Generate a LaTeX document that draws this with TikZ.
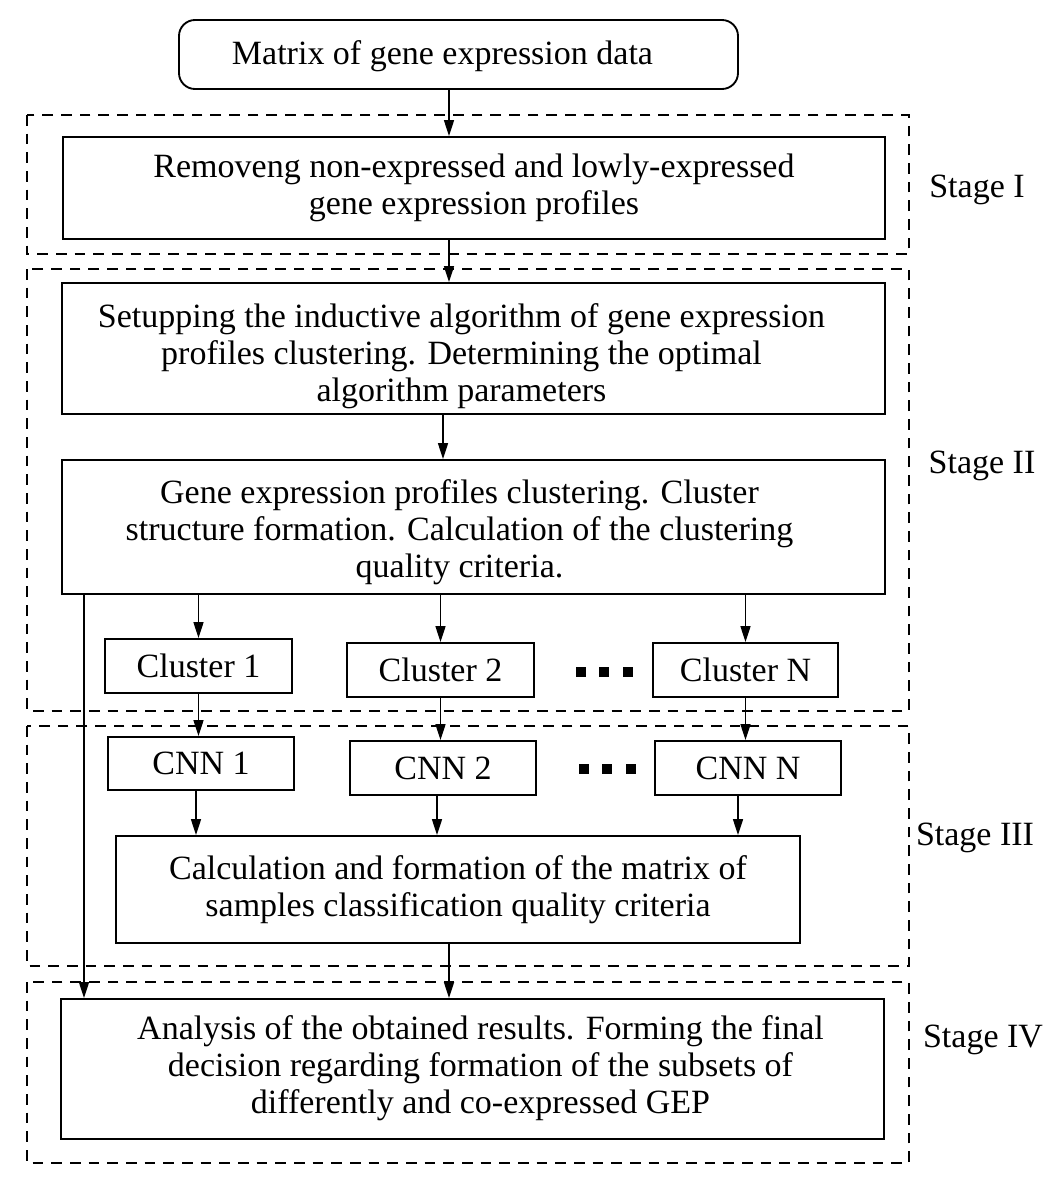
\documentclass[tikz,border=0pt]{standalone}
\usepackage{fontspec}
\setmainfont{Liberation Serif}
\usetikzlibrary{arrows.meta}
\newcommand\shtxt[3]{\hspace*{#1}\begin{tabular}{@{}c@{}}\rule{0pt}{#2}#3\end{tabular}}
\begin{document}
\begin{tikzpicture}[x=0.75pt,y=-0.75pt,
  font=\fontsize{25.5}{27.75}\selectfont,
  box/.style={draw, line width=1.4pt, align=center, inner sep=0pt},
  stage/.style={draw, line width=1.4pt, dash pattern=on 8pt off 6pt},
  arr/.style={-{Triangle[length=12pt,width=7.5pt]}, line width=1.1pt},
  lbl/.style={inner sep=0pt, anchor=center},
  dotsq/.style={fill=black, minimum width=7.5pt, minimum height=7.5pt, inner sep=0pt}]
\useasboundingbox (0,0) rectangle (1048,1182);
% stage frames
\draw[stage] (27,115) rectangle (909,254);
\draw[stage] (27,269) rectangle (909,711);
\draw[stage] (27,726) rectangle (909,966);
\draw[stage] (27,982) rectangle (909,1163);
% nodes
\node[box, rounded corners=12pt, minimum width=419.25pt, minimum height=51.75pt] (top) at (458.5,54.5) {\shtxt{-24pt}{23.5pt}{Matrix of gene expression data}};
\node[box, minimum width=616.5pt, minimum height=76.5pt] (b1) at (474,188) {Removeng non-expressed and lowly-expressed\\gene expression profiles};
\node[box, minimum width=617.25pt, minimum height=98.25pt] (b2) at (473.5,348.5) {\shtxt{-18pt}{33pt}{Setupping the inductive algorithm of gene expression\\profiles clustering. Determining the optimal\\algorithm parameters}};
\node[box, minimum width=617.25pt, minimum height=100.5pt] (b3) at (473.5,527) {\shtxt{-21pt}{28.5pt}{Gene expression profiles clustering. Cluster\\structure formation. Calculation of the clustering\\quality criteria.}};
\node[box, minimum width=140.25pt, minimum height=40.5pt] (c1) at (198.5,666) {Cluster 1};
\node[box, minimum width=140.25pt, minimum height=40.5pt] (c2) at (440.5,670) {Cluster 2};
\node[box, minimum width=138.75pt, minimum height=40.5pt] (cn) at (745.5,670) {Cluster N};
\node[box, minimum width=139.5pt, minimum height=39.75pt] (n1) at (201,763.5) {CNN 1};
\node[box, minimum width=139.5pt, minimum height=40.5pt] (n2) at (443,768) {CNN 2};
\node[box, minimum width=139.5pt, minimum height=40.5pt] (nn) at (748,768) {CNN N};
\node[box, minimum width=513pt, minimum height=80.25pt] (calc) at (458,889.5) {Calculation and formation of the matrix of\\samples classification quality criteria};
\node[box, minimum width=617.25pt, minimum height=105pt] (fin) at (472.5,1069) {\shtxt{12pt}{19pt}{Analysis of the obtained results. Forming the final\\decision regarding formation of the subsets of\\differently and co-expressed GEP}};
% dots
\foreach \xx in {581,604,628}{
  \node[dotsq] (da\xx) at (\xx,672) {};
  \node[dotsq] (db\xx) at (\xx+3,769) {};
}
% stage labels
\node[lbl] (s1) at (977,190) {Stage I};
\node[lbl] (s2) at (982,466) {Stage II};
\node[lbl] (s3) at (975,838) {Stage III};
\node[lbl] (s4) at (983,1040) {Stage IV};
% connectors
\coordinate (a0) at (449,0);
\draw[arr] (top.south -| a0) -- (b1.north -| a0);
\draw[arr] (b1.south -| a0) -- (b2.north -| a0);
\coordinate (a1) at (443,0);
\draw[arr] (b2.south -| a1) -- (b3.north -| a1);
\draw[arr] (b3.south -| c1) -- (c1.north);
\draw[arr] (b3.south -| c2) -- (c2.north);
\draw[arr] (b3.south -| cn) -- (cn.north);
\draw[arr] (c1.south) -- (c1.south |- n1.north);
\draw[arr] (c2.south) -- (c2.south |- n2.north);
\draw[arr] (cn.south) -- (cn.south |- nn.north);
\coordinate (k1) at (196,0);
\coordinate (k2) at (437,0);
\coordinate (k3) at (738,0);
\draw[arr] (n1.south -| k1) -- (calc.north -| k1);
\draw[arr] (n2.south -| k2) -- (calc.north -| k2);
\draw[arr] (nn.south -| k3) -- (calc.north -| k3);
\draw[arr] (calc.south -| a0) -- (fin.north -| a0);
\coordinate (lft) at (84,0);
\draw[arr] (b3.south -| lft) -- (fin.north -| lft);
\end{tikzpicture}
\end{document}
